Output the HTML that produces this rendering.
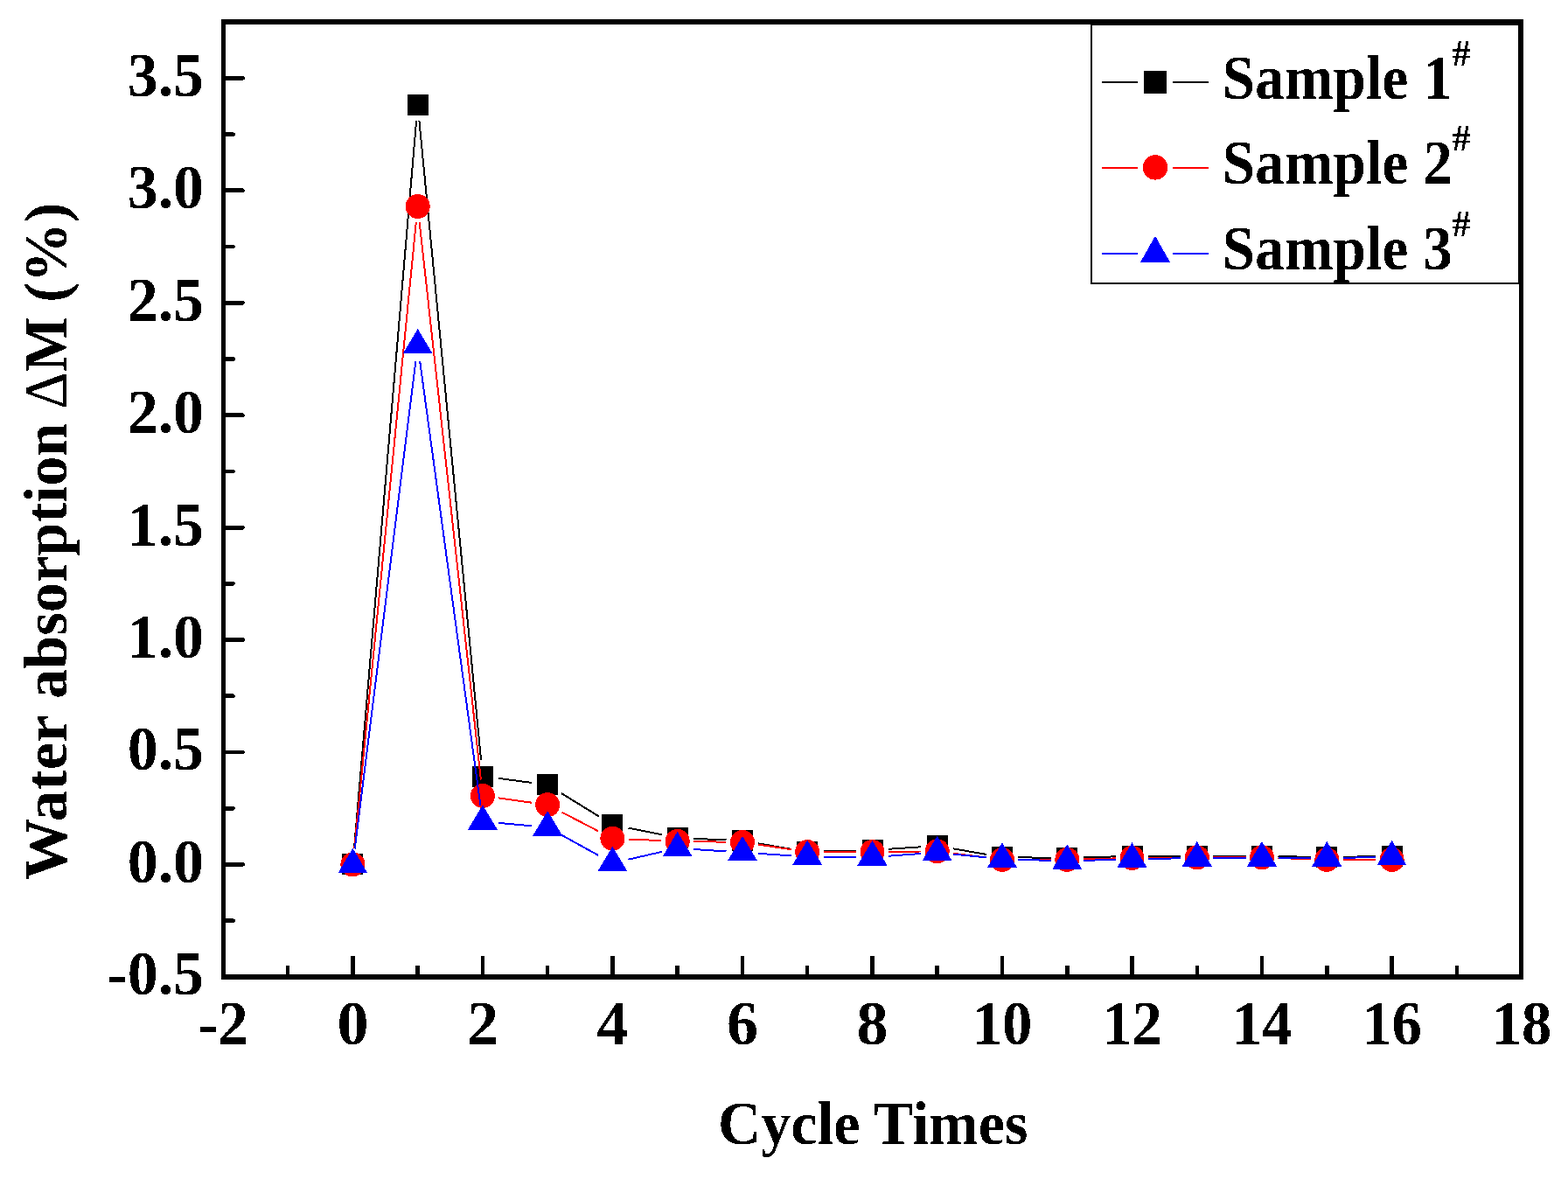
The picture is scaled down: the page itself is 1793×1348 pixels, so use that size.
<!DOCTYPE html>
<html><head><meta charset="utf-8"><title>Water absorption vs cycle times</title>
<style>html,body{margin:0;padding:0;background:#fff;}body{width:1793px;height:1348px;overflow:hidden;}svg{display:block;}</style>
</head><body><svg width="1793" height="1348" viewBox="0 0 1793 1348" shape-rendering="crispEdges"><rect x="253" y="22" width="5" height="1098" fill="#000"/><rect x="1737" y="22" width="5" height="1098" fill="#000"/><rect x="253" y="22" width="1489" height="6" fill="#000"/><rect x="253" y="1114" width="1489" height="6" fill="#000"/><path d="M258 1052.6H266.5M258 988.4H277.5M258 924.2H266.5M258 860.0H277.5M258 795.8H266.5M258 731.5H277.5M258 667.3H266.5M258 603.1H277.5M258 538.9H266.5M258 474.7H277.5M258 410.5H266.5M258 346.2H277.5M258 282.0H266.5M258 217.8H277.5M258 153.6H266.5M258 89.4H277.5" stroke="#000" stroke-width="4.8" stroke-linecap="round" fill="none"/><path d="M329.1 1114V1104M403.4 1114V1093M477.7 1114V1104M551.9 1114V1093M626.2 1114V1104M700.4 1114V1093M774.7 1114V1104M849.0 1114V1093M923.2 1114V1104M997.5 1114V1093M1071.7 1114V1104M1146.0 1114V1093M1220.3 1114V1104M1294.5 1114V1093M1368.8 1114V1104M1443.0 1114V1093M1517.3 1114V1104M1591.6 1114V1093M1665.8 1114V1104" stroke="#000" stroke-width="4.5" fill="none"/><path d="M405.0 969.9L476.1 138.2M479.4 138.2L550.1 869.1M570.3 889.9L607.8 894.9M641.9 907.0L684.7 933.3M718.6 946.7L756.6 954.3M793.2 958.8L830.5 960.5M867.2 964.4L905.0 970.9M941.7 973.5L979.0 972.5M1015.9 970.8L1053.3 968.3M1090.0 970.3L1127.8 976.9M1164.5 980.3L1201.8 980.8M1238.8 980.5L1276.0 979.3M1313.0 978.8L1350.3 978.8M1387.3 978.8L1424.5 978.8M1461.5 979.1L1498.8 979.8M1535.8 979.8L1573.1 979.1" stroke="#000" stroke-width="2" fill="none"/><rect x="391.4" y="976.3" width="24" height="24" fill="#000"/><rect x="465.7" y="107.8" width="24" height="24" fill="#000"/><rect x="539.9" y="875.5" width="24" height="24" fill="#000"/><rect x="614.2" y="885.3" width="24" height="24" fill="#000"/><rect x="688.4" y="931.0" width="24" height="24" fill="#000"/><rect x="762.7" y="946.0" width="24" height="24" fill="#000"/><rect x="837.0" y="949.3" width="24" height="24" fill="#000"/><rect x="911.2" y="962.0" width="24" height="24" fill="#000"/><rect x="985.5" y="960.0" width="24" height="24" fill="#000"/><rect x="1059.7" y="955.1" width="24" height="24" fill="#000"/><rect x="1134.0" y="968.1" width="24" height="24" fill="#000"/><rect x="1208.3" y="969.0" width="24" height="24" fill="#000"/><rect x="1282.5" y="966.8" width="24" height="24" fill="#000"/><rect x="1356.8" y="966.8" width="24" height="24" fill="#000"/><rect x="1431.0" y="966.8" width="24" height="24" fill="#000"/><rect x="1505.3" y="968.1" width="24" height="24" fill="#000"/><rect x="1579.6" y="966.8" width="24" height="24" fill="#000"/><path d="M405.2 970.0L475.8 254.4M479.7 254.4L549.9 891.5M570.2 912.4L607.9 917.7M642.6 928.7L684.0 950.2M718.9 959.5L756.2 961.1M793.2 962.1L830.5 962.7M867.3 965.6L904.9 971.3M941.7 974.0L979.0 974.0M1016.0 973.8L1053.2 973.5M1090.1 975.7L1127.7 980.5M1164.5 982.9L1201.8 982.9M1238.8 982.4L1276.0 981.4M1313.0 980.8L1350.3 980.5M1387.3 980.4L1424.5 980.4M1461.5 981.0L1498.8 982.3M1535.8 982.9L1573.1 982.9" stroke="#f00" stroke-width="2" fill="none"/><circle cx="403.4" cy="988.4" r="14" fill="#f00"/><circle cx="477.7" cy="236.0" r="14" fill="#f00"/><circle cx="551.9" cy="909.9" r="14" fill="#f00"/><circle cx="626.2" cy="920.2" r="14" fill="#f00"/><circle cx="700.4" cy="958.7" r="14" fill="#f00"/><circle cx="774.7" cy="961.9" r="14" fill="#f00"/><circle cx="849.0" cy="962.9" r="14" fill="#f00"/><circle cx="923.2" cy="974.0" r="14" fill="#f00"/><circle cx="997.5" cy="974.0" r="14" fill="#f00"/><circle cx="1071.7" cy="973.3" r="14" fill="#f00"/><circle cx="1146.0" cy="982.9" r="14" fill="#f00"/><circle cx="1220.3" cy="982.9" r="14" fill="#f00"/><circle cx="1294.5" cy="980.9" r="14" fill="#f00"/><circle cx="1368.8" cy="980.4" r="14" fill="#f00"/><circle cx="1443.0" cy="980.4" r="14" fill="#f00"/><circle cx="1517.3" cy="982.9" r="14" fill="#f00"/><circle cx="1591.6" cy="982.9" r="14" fill="#f00"/><path d="M405.7 970.5L475.4 413.3M480.2 413.2L549.4 920.9M570.3 940.9L607.8 944.3M642.4 954.9L684.2 977.9M718.5 982.7L756.7 973.9M793.2 971.0L830.5 973.5M867.4 975.9L904.8 978.3M941.7 979.6L979.0 979.9M1015.9 978.7L1053.3 976.0M1090.1 976.6L1127.6 980.4M1164.5 982.8L1201.8 983.9M1238.8 983.9L1276.0 982.8M1313.0 982.0L1350.3 981.3M1387.3 981.0L1424.5 981.0M1461.5 981.0L1498.8 981.0M1535.8 980.7L1573.1 980.2" stroke="#00f" stroke-width="2" fill="none"/><path d="M403.4 969.9L420.4 998.4L386.4 998.4Z" fill="#00f"/><path d="M477.7 375.9L494.7 404.4L460.7 404.4Z" fill="#00f"/><path d="M551.9 920.2L568.9 948.7L534.9 948.7Z" fill="#00f"/><path d="M626.2 927.0L643.2 955.5L609.2 955.5Z" fill="#00f"/><path d="M700.4 967.8L717.4 996.3L683.4 996.3Z" fill="#00f"/><path d="M774.7 950.8L791.7 979.3L757.7 979.3Z" fill="#00f"/><path d="M849.0 955.7L866.0 984.2L832.0 984.2Z" fill="#00f"/><path d="M923.2 960.5L940.2 989.0L906.2 989.0Z" fill="#00f"/><path d="M997.5 961.0L1014.5 989.5L980.5 989.5Z" fill="#00f"/><path d="M1071.7 955.7L1088.7 984.2L1054.7 984.2Z" fill="#00f"/><path d="M1146.0 963.3L1163.0 991.8L1129.0 991.8Z" fill="#00f"/><path d="M1220.3 965.4L1237.3 993.9L1203.3 993.9Z" fill="#00f"/><path d="M1294.5 963.3L1311.5 991.8L1277.5 991.8Z" fill="#00f"/><path d="M1368.8 962.0L1385.8 990.5L1351.8 990.5Z" fill="#00f"/><path d="M1443.0 962.0L1460.0 990.5L1426.0 990.5Z" fill="#00f"/><path d="M1517.3 962.0L1534.3 990.5L1500.3 990.5Z" fill="#00f"/><path d="M1591.6 960.9L1608.6 989.4L1574.6 989.4Z" fill="#00f"/><defs><filter id="bin" x="0" y="0" width="100%" height="100%" filterUnits="userSpaceOnUse"><feComponentTransfer><feFuncA type="discrete" tableValues="0 1"/></feComponentTransfer></filter></defs><g font-family="Liberation Serif, Times New Roman, serif" font-weight="bold" fill="#000" filter="url(#bin)"><text transform="translate(233.00 1137.33) scale(0.9700 1)" text-anchor="end" font-size="72" >-0.5</text><text transform="translate(233.00 1008.90) scale(0.9700 1)" text-anchor="end" font-size="72" >0.0</text><text transform="translate(233.00 880.47) scale(0.9700 1)" text-anchor="end" font-size="72" >0.5</text><text transform="translate(233.00 752.04) scale(0.9700 1)" text-anchor="end" font-size="72" >1.0</text><text transform="translate(233.00 623.61) scale(0.9700 1)" text-anchor="end" font-size="72" >1.5</text><text transform="translate(233.00 495.18) scale(0.9700 1)" text-anchor="end" font-size="72" >2.0</text><text transform="translate(233.00 366.75) scale(0.9700 1)" text-anchor="end" font-size="72" >2.5</text><text transform="translate(233.00 238.32) scale(0.9700 1)" text-anchor="end" font-size="72" >3.0</text><text transform="translate(233.00 109.89) scale(0.9700 1)" text-anchor="end" font-size="72" >3.5</text><text transform="translate(254.88 1193.50) scale(0.9550 1)" text-anchor="middle" font-size="72" >-2</text><text transform="translate(403.40 1193.50) scale(1.0000 1)" text-anchor="middle" font-size="72" >0</text><text transform="translate(551.92 1193.50) scale(1.0000 1)" text-anchor="middle" font-size="72" >2</text><text transform="translate(700.44 1193.50) scale(1.0000 1)" text-anchor="middle" font-size="72" >4</text><text transform="translate(848.96 1193.50) scale(1.0000 1)" text-anchor="middle" font-size="72" >6</text><text transform="translate(997.48 1193.50) scale(1.0000 1)" text-anchor="middle" font-size="72" >8</text><text transform="translate(1146.00 1193.50) scale(0.9550 1)" text-anchor="middle" font-size="72" >10</text><text transform="translate(1294.52 1193.50) scale(0.9550 1)" text-anchor="middle" font-size="72" >12</text><text transform="translate(1443.04 1193.50) scale(0.9550 1)" text-anchor="middle" font-size="72" >14</text><text transform="translate(1591.56 1193.50) scale(0.9550 1)" text-anchor="middle" font-size="72" >16</text><text transform="translate(1740.08 1193.50) scale(0.9550 1)" text-anchor="middle" font-size="72" >18</text><text transform="translate(998.20 1307.60) scale(0.9710 1)" text-anchor="middle" font-size="70" >Cycle Times</text><text transform="translate(76.40 911.75) rotate(-90) scale(1.0120 1)" text-anchor="middle" font-size="70" >Water</text><text transform="translate(76.40 641.30) rotate(-90) scale(0.9770 1)" text-anchor="middle" font-size="70" >absorption</text><text transform="translate(76.40 414.95) rotate(-90) scale(0.9500 1)" text-anchor="middle" font-size="70" ><tspan font-weight="normal">Δ</tspan>M</text><text transform="translate(76.40 288.75) rotate(-90) scale(0.9760 1)" text-anchor="middle" font-size="70" >(%)</text><text transform="translate(1397.70 112.50) scale(0.9330 1)" text-anchor="start" font-size="72" >Sample 1</text><text transform="translate(1660.50 74.50) scale(1.0000 1)" text-anchor="start" font-size="42" font-weight="normal" stroke="#000" stroke-width="0.7">#</text><text transform="translate(1397.70 210.00) scale(0.9330 1)" text-anchor="start" font-size="72" >Sample 2</text><text transform="translate(1660.50 172.00) scale(1.0000 1)" text-anchor="start" font-size="42" font-weight="normal" stroke="#000" stroke-width="0.7">#</text><text transform="translate(1397.70 308.00) scale(0.9330 1)" text-anchor="start" font-size="72" >Sample 3</text><text transform="translate(1660.50 270.00) scale(1.0000 1)" text-anchor="start" font-size="42" font-weight="normal" stroke="#000" stroke-width="0.7">#</text></g><rect x="1248" y="28" width="489" height="296" fill="none" stroke="#000" stroke-width="2"/><path d="M1260 93.9H1301M1341 93.9H1382" stroke="#000" stroke-width="2.2"/><rect x="1308.0" y="80.9" width="26" height="26" fill="#000"/><path d="M1260 191.9H1301M1341 191.9H1382" stroke="#f00" stroke-width="2.2"/><circle cx="1321.0" cy="191.4" r="14.2" fill="#f00"/><path d="M1260 290H1301M1341 290H1382" stroke="#00f" stroke-width="2.2"/><path d="M1321.0 269.8L1338.0 299.8L1304.0 299.8Z" fill="#00f"/></svg></body></html>
